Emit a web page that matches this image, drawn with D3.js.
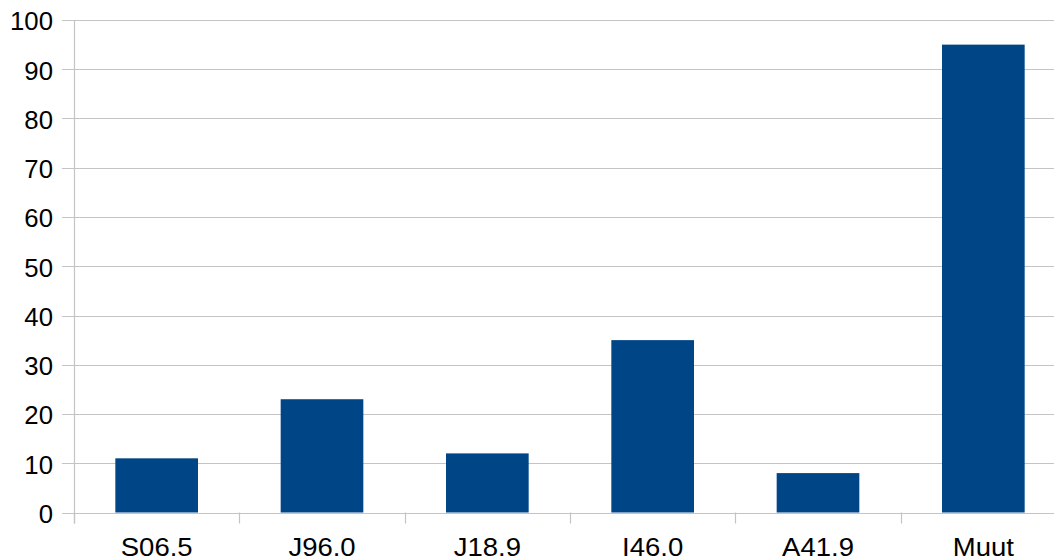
<!DOCTYPE html>
<html>
<head>
<meta charset="utf-8">
<script src="https://cdn.jsdelivr.net/npm/d3@7"></script>
<style>
  html, body { margin: 0; padding: 0; background: #ffffff; overflow: hidden; }
  svg { display: block; }
  text { font-family: "Liberation Sans", Arial, sans-serif; fill: #000; }
</style>
</head>
<body>
<svg id="chart" width="1054" height="560"></svg>
<script>
const categories = ["S06.5", "J96.0", "J18.9", "I46.0", "A41.9", "Muut"];
const values = [11, 23, 12, 35, 8, 95];
const yTicks = [0, 10, 20, 30, 40, 50, 60, 70, 80, 90, 100];

const svg = d3.select("#chart");
const plot = { left: 74, right: 1066, top: 20, bottom: 512.5 };

const x = d3.scaleBand()
  .domain(categories)
  .range([plot.left, plot.right])
  .paddingInner(0.5)
  .paddingOuter(0.25);

const y = d3.scaleLinear()
  .domain([0, 100])
  .range([plot.bottom, plot.top]);

const gridColor = "#c4c4c4";

// horizontal gridlines with short ticks left of the axis
svg.append("g").selectAll("line")
  .data(yTicks)
  .join("line")
  .attr("x1", plot.left - 12)
  .attr("x2", plot.right)
  .attr("y1", d => Math.round(y(d)) + 0.5)
  .attr("y2", d => Math.round(y(d)) + 0.5)
  .attr("stroke", gridColor)
  .attr("stroke-width", 1.2);

// y-axis labels
svg.append("g").selectAll("text")
  .data(yTicks)
  .join("text")
  .attr("x", 53)
  .attr("y", d => y(d))
  .attr("dy", "0.42em")
  .attr("text-anchor", "end")
  .attr("font-size", 25)
  .attr("transform", d => `translate(53,0) scale(1.03,1) translate(-53,0)`)
  .text(d => d);

// vertical axis line
svg.append("line")
  .attr("x1", plot.left + 0.5).attr("x2", plot.left + 0.5)
  .attr("y1", plot.top).attr("y2", plot.bottom + 11)
  .attr("stroke", gridColor).attr("stroke-width", 1.2);

// category separator ticks below the baseline
const bounds = d3.range(categories.length + 1).map(i => plot.left + i * (plot.right - plot.left) / categories.length);
svg.append("g").selectAll("line")
  .data(bounds)
  .join("line")
  .attr("x1", d => Math.round(d) + 0.5)
  .attr("x2", d => Math.round(d) + 0.5)
  .attr("y1", plot.bottom)
  .attr("y2", plot.bottom + 11)
  .attr("stroke", gridColor)
  .attr("stroke-width", 1.2);

// bars
svg.append("g").selectAll("rect")
  .data(categories.map((c, i) => ({ c, v: values[i] })))
  .join("rect")
  .attr("x", d => x(d.c))
  .attr("width", x.bandwidth())
  .attr("y", d => y(d.v))
  .attr("height", d => y(0) - y(d.v))
  .attr("fill", "#004586");

// category labels (slightly wide lettering)
svg.append("g").selectAll("text")
  .data(categories)
  .join("text")
  .attr("text-anchor", "middle")
  .attr("font-size", 25)
  .attr("transform", d => `translate(${x(d) + x.bandwidth() / 2},556) scale(1.1,1)`)
  .text(d => d);
</script>
</body>
</html>
